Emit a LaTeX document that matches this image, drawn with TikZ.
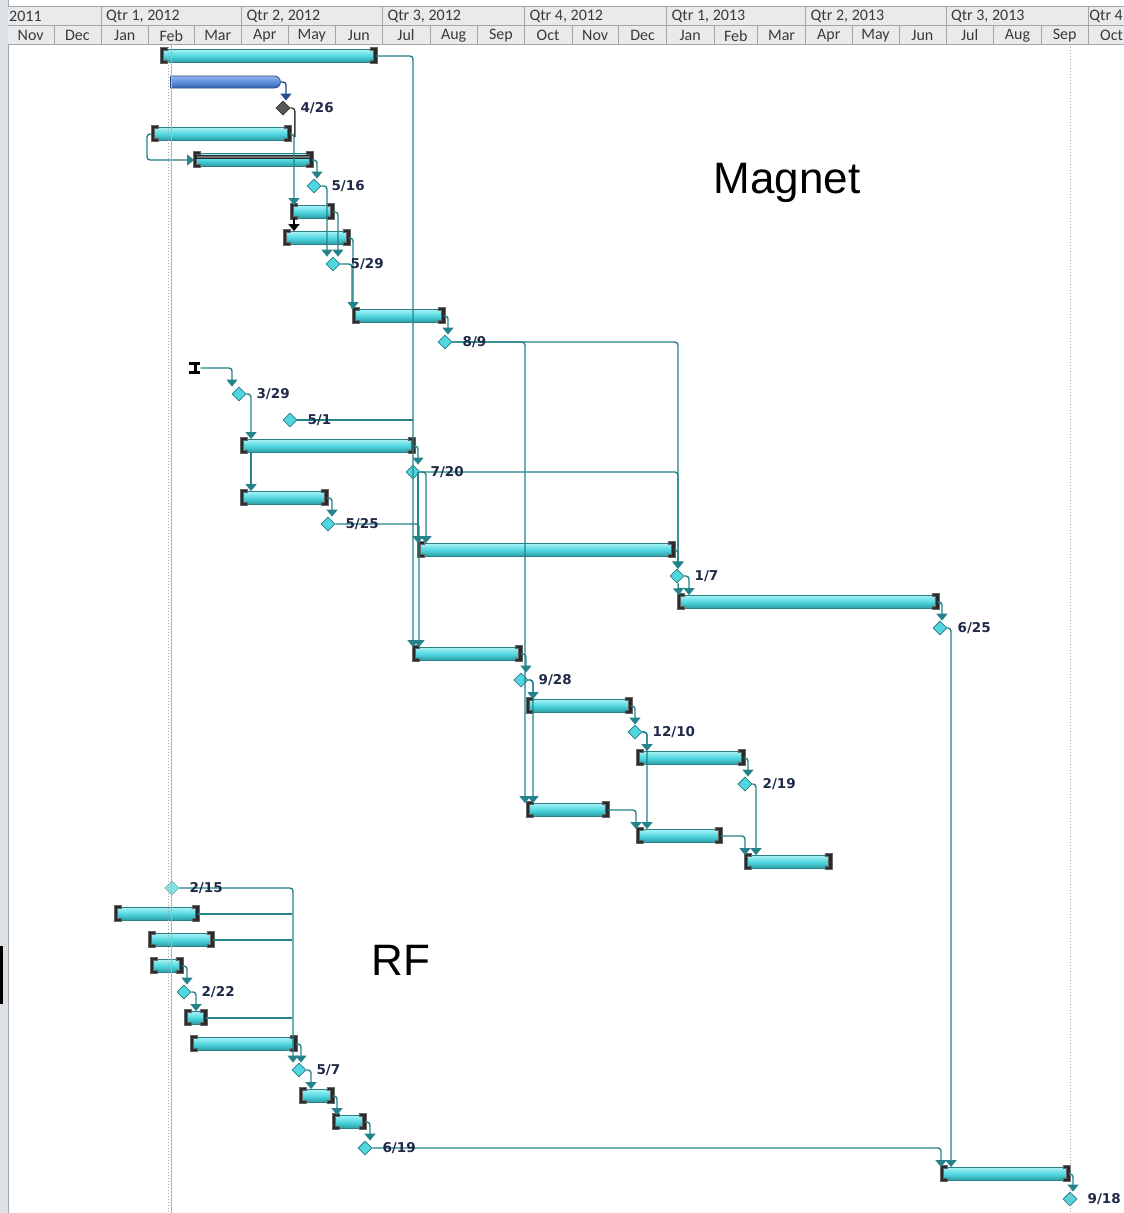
\documentclass[tikz,border=0pt]{standalone}
\usepackage{fontspec}
\setmainfont{Carlito}
\newfontfamily\lblfont{DejaVu Sans}
\newfontfamily\bigfont{Liberation Sans}
\usetikzlibrary{shapes.geometric,shapes.misc,arrows.meta,calc}
\definecolor{tealL}{HTML}{24838A}
\definecolor{cyL}{HTML}{A6F2F5}
\definecolor{cyM}{HTML}{4FD6DF}
\definecolor{cyD}{HTML}{2A9AA2}
\definecolor{cyO}{HTML}{2C7F86}
\definecolor{brk}{HTML}{2B2B2B}
\definecolor{hdr}{HTML}{E8EAEC}
\definecolor{hdrline}{HTML}{A3A6A9}
\definecolor{hdrtext}{HTML}{3A3A3A}
\definecolor{lblc}{HTML}{1E2A48}
\definecolor{blueL}{HTML}{8EB4EE}
\definecolor{blueM}{HTML}{5F8FDA}
\definecolor{blueD}{HTML}{3561B0}
\definecolor{blueO}{HTML}{2A4A8C}
\definecolor{todayc}{HTML}{F2A15E}
\definecolor{stripc}{HTML}{DDE1E5}
\newcommand\gntbrk[1]{%
  \fill[brk, draw=black!60, line width=0.4] ($(#1.north west)+(-1,-1.5)$) -- ++(7,0) -- ++(0,3) -- ++(-3.5,0) -- ++(0,10) -- ++(3.5,0) -- ++(0,3) -- ++(-7,0) -- cycle;
  \fill[brk, draw=black!60, line width=0.4] ($(#1.north east)+(1,-1.5)$) -- ++(-7,0) -- ++(0,3) -- ++(3.5,0) -- ++(0,10) -- ++(-3.5,0) -- ++(0,3) -- ++(7,0) -- cycle;}
\newcommand\gntbar[4]{%
  \node[taskbar, minimum width={#3-#2}, anchor=west] (#1) at (#2,#4) {};
  \gntbrk{#1}}
\begin{document}
\begin{tikzpicture}[x=1pt,y=-1pt,
  taskbar/.style={rectangle, inner sep=0, minimum height=13, draw=cyO, line width=0.8, top color=cyL, bottom color=cyD, middle color=cyM},
  bluebar/.style={rounded rectangle, rounded rectangle west arc=none, inner sep=0, minimum height=12, draw=blueO, line width=0.8, top color=blueL, bottom color=blueD, middle color=blueM},
  ms/.style={diamond, inner sep=0, minimum width=14, minimum height=14, draw=cyO, line width=0.8, fill=cyM},
  link/.style={draw=tealL, line width=1.4, rounded corners=3},
  arr/.style={link, -{Triangle[width=11pt,length=7pt]}},
  lbl/.style={font=\lblfont\bfseries\fontsize{13.5}{13.5}\selectfont, text=lblc, inner sep=0, anchor=west},
  hdrtxt/.style={font=\fontsize{16}{16}\selectfont, text=hdrtext, inner sep=0},
  bigtxt/.style={font=\bigfont\fontsize{44}{44}\selectfont, text=black, inner sep=0}]
\useasboundingbox (0,0) rectangle (1124,1213);
\begin{scope}
\clip (0,0) rectangle (1124,1213);
\fill[white] (0,0) rectangle (1124,1213);
% left strip
\fill[stripc] (0,0) rectangle (8,1213);
\draw[hdrline] (8,0) -- (8,1213);
\fill[black] (0,946) rectangle (2.5,1004);
% header
\fill[hdr] (8,6) rectangle (1124,44);
\draw[hdrline] (8,6) -- (1124,6) (8,25) -- (1124,25) (8,44) -- (1124,44);
\node[hdrtxt, anchor=west] (q0) at (9,16) {2011};
\foreach[count=\i] \a/\b/\t in {101/241.5/{Qtr 1, 2012},241.5/382.3/{Qtr 2, 2012},382.3/524.4/{Qtr 3, 2012},524.4/666.5/{Qtr 4, 2012},666.5/805.5/{Qtr 1, 2013},805.5/945.8/{Qtr 2, 2013},945.8/1088/{Qtr 3, 2013}}{
  \draw[hdrline] (\a,6) -- (\a,25);
  \node[hdrtxt, anchor=west] (q\i) at (\a+5,16) {\t};
}
\draw[hdrline] (1088,6) -- (1088,25);
\node[hdrtxt, anchor=east] (q8) at (1123,16) {Qtr 4};
\foreach[count=\i] \a/\b/\t in {7.5/53.8/Nov,53.8/101/Dec,101/148.6/Jan,148.6/194/Feb,194/241.5/Mar,241.5/288/Apr,288/335.5/May,335.5/382.3/Jun,382.3/429.7/Jul,429.7/477.6/Aug,477.6/524.4/Sep,524.4/571.8/Oct,571.8/618.6/Nov,618.6/666.5/Dec,666.5/713.9/Jan,713.9/757.6/Feb,757.6/805.5/Mar,805.5/852/Apr,852/899/May,899/945.8/Jun,945.8/993.5/Jul,993.5/1041.4/Aug,1041.4/1088/Sep}{
  \draw[hdrline] (\b,25) -- (\b,44);
  \node[hdrtxt] (mo\i) at ({(\a+\b)/2},35.5) {\t};
}
\node[hdrtxt, anchor=west] (mo24) at (1100,35.5) {Oct};
% ---------- tasks: Magnet ----------
\gntbar{b1}{161}{375}{56}
\node[bluebar, minimum width=110, anchor=west] (bb) at (170,82) {};
\node[ms, fill=black!65, draw=black!80] (m426) at (283,108) {};
\gntbar{b3}{152}{289}{134}
\gntbar{b4}{194}{311}{160}
\fill[black!55, draw=black!85, line width=0.5] ($(b4.north west)+(2,2)$) rectangle ($(b4.north east)+(-2,5.5)$);
\node[ms] (m516) at (314,186) {};
\gntbar{b5}{291}{332}{212}
\gntbar{b6}{284}{348}{238}
\node[ms] (m529) at (333,264) {};
\gntbar{b7}{353}{443}{316}
\node[ms] (m89) at (445,342) {};
\node[inner sep=0, minimum width=11, minimum height=12] (ib) at (195,368) {};
\fill[black] (ib.north west) rectangle ++(11,3);
\fill[black] ($(ib.north)+(-1.5,0)$) rectangle ++(3,12);
\fill[black] ($(ib.south west)+(0,-3)$) rectangle ++(11,3);
\node[ms] (m329) at (239,394) {};
\node[ms] (m51) at (290,420) {};
\gntbar{b8}{241}{413}{446}
\node[ms] (m720) at (413,472) {};
\gntbar{b9}{241}{326}{498}
\node[ms] (m525) at (328,524) {};
\gntbar{b10}{418}{673}{550}
\node[ms] (m17) at (677,576) {};
\gntbar{b11}{678}{937}{602}
\node[ms] (m625) at (940,628) {};
\gntbar{b12}{413}{520}{654}
\node[ms] (m928) at (521,680) {};
\gntbar{b13}{527}{630}{706}
\node[ms] (m1210) at (635,732) {};
\gntbar{b14}{637}{743}{758}
\node[ms] (m219) at (745,784) {};
\gntbar{b15}{527}{607}{810}
\gntbar{b16}{637}{720}{836}
\gntbar{b17}{745}{830}{862}
% ---------- tasks: RF ----------
\node[ms, fill=cyL!60!cyM, draw=cyO!60] (m215) at (172,888) {};
\gntbar{r1}{115}{197}{914}
\gntbar{r2}{149}{212}{940}
\gntbar{r3}{151}{181}{966}
\node[ms] (m222) at (184,992) {};
\gntbar{r4}{185}{205}{1018}
\gntbar{r5}{191}{295}{1044}
\node[ms] (m57) at (299,1070) {};
\gntbar{r6}{300}{332}{1096}
\gntbar{r7}{333}{364}{1122}
\node[ms] (m619) at (365,1148) {};
\gntbar{bf}{941}{1068}{1174}
\node[ms] (m918) at (1070,1199) {};
% ---------- connectors ----------
\draw[arr] (b1.east) -| (b12.north west);
\draw[arr, draw=blueO] (bb.east) -| ([xshift=3]m426.north);
\draw[link, draw=black!75] (m426.east) -| ($(b3.east)+(5,3)$);
\draw[arr] (b3.east) -| ([xshift=3]b5.north west);
\draw[arr] (b3.west) -- ++(-5,0) |- (b4.west);
\draw[arr, draw=black] ([xshift=3]b5.south west) -- ([xshift=3]b5.south west |- b6.north);
\draw[arr] (b4.east) -| ([xshift=3]m516.north);
\draw[arr] (m516.east) -| ([xshift=-6]m529.north);
\draw[arr] (b5.east) -| ([xshift=5]m529.north);
\draw[arr] (b6.east) -| (b7.north west);
\draw[link] (m529.east) -| ([xshift=-1]b7.north west);
\draw[arr] (b7.east) -| ([xshift=3]m89.north);
\draw[arr] (m89.east) -| ([xshift=1]m17.north);
\draw[arr] (m89.east) -| ([xshift=-2]b15.north west);
\draw[arr] (ib.east) -| ([xshift=-7]m329.north);
\draw[arr] (m329.east) -| ([xshift=10]b8.north west);
\draw[arr] ([xshift=10]b8.south west) -- ([xshift=10]b9.north west);
\draw[link] (m51.east) -- (m51.east -| b12.north west);
\draw[arr] (b8.east) -| ([xshift=5]m720.north);
\draw[arr] ([xshift=5]m720.center) -- (b10.north west);
\draw[arr] (m720.east) -| ([xshift=8]b10.north west);
\draw[arr] (m720.east) -| ([xshift=1]m17.north);
\draw[arr] (b9.east) -| ([xshift=4]m525.north);
\draw[arr] (m525.east) -| ([xshift=6]b12.north west);
\draw[arr] (b10.east) -| ([xshift=1]m17.north);
\draw[arr] ([xshift=1]m17.south) -- ([xshift=1]b11.north west);
\draw[arr] (m17.east) -| ([xshift=11]b11.north west);
\draw[arr] (b11.east) -| ([xshift=2]m625.north);
\draw[arr] (m625.east) -| ([xshift=10]bf.north west);
\draw[arr] (b12.east) -| ([xshift=5]m928.north);
\draw[arr] (m928.east) -| ([xshift=6]b13.north west);
\draw[arr] (m928.east) -| ([xshift=6]b15.north west);
\draw[arr] (b13.east) -| (m1210.north);
\draw[arr] (m1210.east) -| ([xshift=10]b14.north west);
\draw[arr] (m1210.east) -| ([xshift=10]b16.north west);
\draw[arr] (b14.east) -| ([xshift=3]m219.north);
\draw[arr] (m219.east) -| ([xshift=11]b17.north west);
\draw[arr] (b15.east) -| ([xshift=-1]b16.north west);
\draw[arr] (b16.east) -| (b17.north west);
% RF connectors
\coordinate (rfx) at (292,888);
\draw[arr] (m215.east) -| ([xshift=-6]m57.north);
\draw[link] (r1.east) -- (r1.east -| rfx);
\draw[link] (r2.east) -- (r2.east -| rfx);
\draw[link] (r4.east) -- (r4.east -| rfx);
\draw[arr] (r3.east) -| ([xshift=3]m222.north);
\draw[arr] (m222.east) -| ([xshift=11]r4.north west);
\draw[arr] (r5.east) -| ([xshift=2]m57.north);
\draw[arr] (m57.east) -| ([xshift=11]r6.north west);
\draw[arr] (r6.east) -| ([xshift=4]r7.north west);
\draw[arr] (r7.east) -| ([xshift=5]m619.north);
\draw[arr] (m619.east) -| (bf.north west);
\draw[arr] (bf.east) -| ([xshift=3]m918.north);
% today and status lines
\draw[black!35, dotted, line width=1] (168.5,44) -- (168.5,1213);
\draw[todayc, line width=1] (171,44) -- (171,1213);
\draw[black!35, dotted, line width=1] (1070,44) -- (1070,1213);
% ---------- labels ----------
\node[lbl] (t426) at ([xshift=10]m426.east) {4/26};
\node[lbl] (t516) at ([xshift=10]m516.east) {5/16};
\node[lbl] (t529) at ([xshift=10]m529.east) {5/29};
\node[lbl] (t89) at ([xshift=10]m89.east) {8/9};
\node[lbl] (t329) at ([xshift=10]m329.east) {3/29};
\node[lbl] (t51) at ([xshift=10]m51.east) {5/1};
\node[lbl] (t720) at ([xshift=10]m720.east) {7/20};
\node[lbl] (t525) at ([xshift=10]m525.east) {5/25};
\node[lbl] (t17) at ([xshift=10]m17.east) {1/7};
\node[lbl] (t625) at ([xshift=10]m625.east) {6/25};
\node[lbl] (t928) at ([xshift=10]m928.east) {9/28};
\node[lbl] (t1210) at ([xshift=10]m1210.east) {12/10};
\node[lbl] (t219) at ([xshift=10]m219.east) {2/19};
\node[lbl] (t215) at ([xshift=10]m215.east) {2/15};
\node[lbl] (t222) at ([xshift=10]m222.east) {2/22};
\node[lbl] (t57) at ([xshift=10]m57.east) {5/7};
\node[lbl] (t619) at ([xshift=10]m619.east) {6/19};
\node[lbl] (t918) at ([xshift=10]m918.east) {9/18};
\node[bigtxt] (mag) at (787,183) {Magnet};
\node[bigtxt] (rf) at (401,960) {RF};
\end{scope}
\end{tikzpicture}
\end{document}
